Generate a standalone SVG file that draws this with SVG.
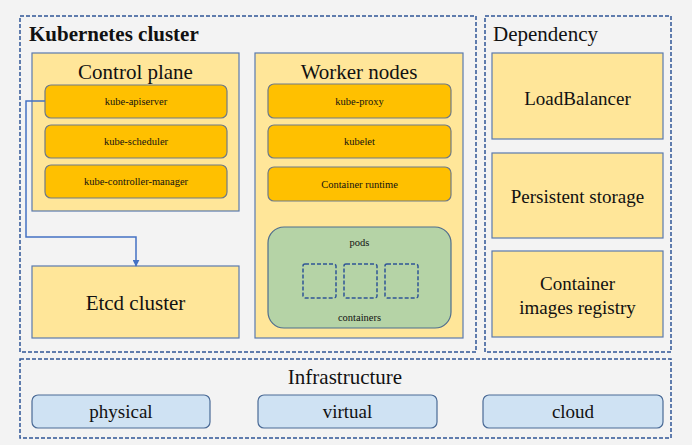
<svg xmlns="http://www.w3.org/2000/svg" width="692" height="445" viewBox="0 0 692 445" font-family="'Liberation Serif', 'DejaVu Serif', serif">
<defs>
<marker id="arr" viewBox="0 0 10 10" refX="9" refY="5" markerWidth="7" markerHeight="7" markerUnits="userSpaceOnUse" orient="auto"><path d="M0,0 L10,5 L0,10 z" fill="#4472C4"/></marker>
<style>
text{font-family:'Liberation Serif','DejaVu Serif',serif;fill:#111;text-anchor:middle}
.dash{fill:none;stroke:#2F5597;stroke-width:1.5;stroke-dasharray:4 2}
.box{fill:#FFE699;stroke:#5A7AAE;stroke-width:1.2}
.btn{fill:#FFC000;stroke:#6F7A87;stroke-width:1.2}
.inf{fill:#CFE2F3;stroke:#4A6A96;stroke-width:1.2}
.sm{font-size:10.5px}
.md{font-size:19px}
.lg{font-size:21px}
</style>
</defs>
<rect width="692" height="445" fill="#F3F3F3"/>
<g id="k8s-cluster">
<rect class="dash" x="20" y="16" width="456" height="336"/>
<text x="29" y="41" style="font-size:21px;font-weight:bold;text-anchor:start">Kubernetes cluster</text>
</g>
<g id="control-plane">
<rect class="box" x="32" y="53" width="207" height="158"/>
<text class="lg" x="135.5" y="79">Control plane</text>
</g>
<g id="kube-apiserver"><rect class="btn" x="45" y="85" width="182" height="33" rx="6"/><text class="sm" x="136" y="105">kube-apiserver</text></g>
<g id="kube-scheduler"><rect class="btn" x="45" y="125" width="182" height="33" rx="6"/><text class="sm" x="136" y="145">kube-scheduler</text></g>
<g id="kube-controller-manager"><rect class="btn" x="45" y="165" width="182" height="33" rx="6"/><text class="sm" x="136" y="185">kube-controller-manager</text></g>
<g id="etcd"><rect class="box" x="32" y="266" width="207" height="72"/><text class="lg" x="135.5" y="310">Etcd cluster</text></g>
<g id="worker-nodes">
<rect class="box" x="255" y="53" width="208" height="285"/>
<text class="lg" x="359" y="79">Worker nodes</text>
</g>
<g id="kube-proxy"><rect class="btn" x="268" y="84" width="183" height="34" rx="6"/><text class="sm" x="359.5" y="105">kube-proxy</text></g>
<g id="kubelet"><rect class="btn" x="268" y="125" width="183" height="33" rx="6"/><text class="sm" x="359.5" y="145">kubelet</text></g>
<g id="container-runtime"><rect class="btn" x="268" y="167" width="183" height="34" rx="6"/><text class="sm" x="359.5" y="188">Container runtime</text></g>
<g id="pods">
<rect x="268" y="227" width="183" height="101" rx="16" fill="#B5D3A6" stroke="#4F6E8E" stroke-width="1.2"/>
<text class="sm" x="359.5" y="246">pods</text>
<rect class="dash" x="303" y="264" width="33" height="34" rx="2"/>
<rect class="dash" x="344" y="264" width="33" height="34" rx="2"/>
<rect class="dash" x="385" y="264" width="33" height="34" rx="2"/>
<text class="sm" x="359.5" y="321">containers</text>
</g>
<g id="dependency">
<rect class="dash" x="485" y="16" width="186" height="336"/>
<text class="lg" x="493" y="41" style="text-anchor:start">Dependency</text>
</g>
<g id="loadbalancer"><rect class="box" x="492" y="53" width="171" height="86"/><text class="md" x="577.5" y="105">LoadBalancer</text></g>
<g id="persistent-storage"><rect class="box" x="492" y="153" width="171" height="85"/><text class="md" x="577.5" y="203">Persistent storage</text></g>
<g id="registry"><rect class="box" x="492" y="251" width="171" height="86"/><text class="md" x="577.5" y="290">Container</text><text class="md" x="577.5" y="314">images registry</text></g>
<g id="infrastructure">
<rect class="dash" x="20" y="359" width="651" height="79"/>
<text class="lg" x="345" y="384">Infrastructure</text>
</g>
<g id="physical"><rect class="inf" x="32" y="395" width="178" height="33" rx="6"/><text class="md" x="121" y="418">physical</text></g>
<g id="virtual"><rect class="inf" x="258" y="395" width="179" height="33" rx="6"/><text class="md" x="347.5" y="418">virtual</text></g>
<g id="cloud"><rect class="inf" x="483" y="395" width="180" height="33" rx="6"/><text class="md" x="573" y="418">cloud</text></g>
<g id="connectors">
<path d="M45,101 H26 V237 H136 V266" fill="none" stroke="#4472C4" stroke-width="1.5" marker-end="url(#arr)"/>
</g>
</svg>
